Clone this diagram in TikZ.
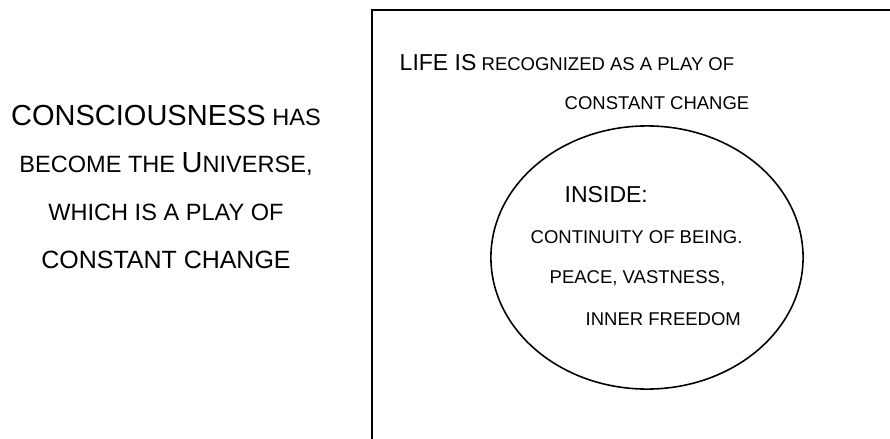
\documentclass[tikz,border=0pt]{standalone}
\usepackage{fontspec}
\setmainfont{Liberation Sans}
\usetikzlibrary{shapes.geometric}

% big capitals inside the small-caps lines
\newcommand{\leftbig}[1]{{\fontsize{8.25}{10}\selectfont #1}}
\newcommand{\boxbig}[1]{{\fontsize{6.55}{8}\selectfont #1}}

\tikzset{
    lefttxt/.style={inner sep=0pt, anchor=base, font=\fontsize{6.7}{8}\selectfont},
    boxtxt/.style={inner sep=0pt, anchor=base west, font=\fontsize{5.26}{6.5}\selectfont},
    core/.style={draw, ellipse, line width=0.45pt, inner sep=0pt}
}

\begin{document}
\begin{tikzpicture}[x=0.01cm, y=-0.01cm]
    \useasboundingbox (0,0) rectangle (890,439);

    % Frame (runs off the right and bottom)
    \begin{scope}
        \clip (0,0) rectangle (890,439);
        \draw[line width=0.55pt] (372,10) rectangle (960,520);
    \end{scope}

    % Left column
    \node[lefttxt] (cons) at (166,125) {\leftbig{CONSCIOUSNESS} HAS};
    \node[lefttxt] (univ) at (166,172) {BECOME THE \leftbig{U}NIVERSE,};
    \node[lefttxt] (which) at (166,220) {WHICH IS A PLAY OF};
    \node[lefttxt, font=\fontsize{7.1}{8.5}\selectfont] (change) at (166,268)
        {CONSTANT CHANGE};

    % Inside the frame
    \node[boxtxt] (life) at (399,70) {\boxbig{LIFE IS} RECOGNIZED AS A PLAY OF};
    \node[boxtxt] (play) at (564,109) {CONSTANT CHANGE};

    % Ellipse and its text
    \node[core, minimum width=3.12cm, minimum height=2.63cm] (self) at (647,257.5) {};
    \node[boxtxt] (inside) at (564,202) {\boxbig{INSIDE:}};
    \node[boxtxt] (being) at (530,243) {CONTINUITY OF BEING.};
    \node[boxtxt] (peace) at (549,283) {PEACE, VASTNESS,};
    \node[boxtxt] (free) at (585,325) {INNER FREEDOM};

\end{tikzpicture}
\end{document}
